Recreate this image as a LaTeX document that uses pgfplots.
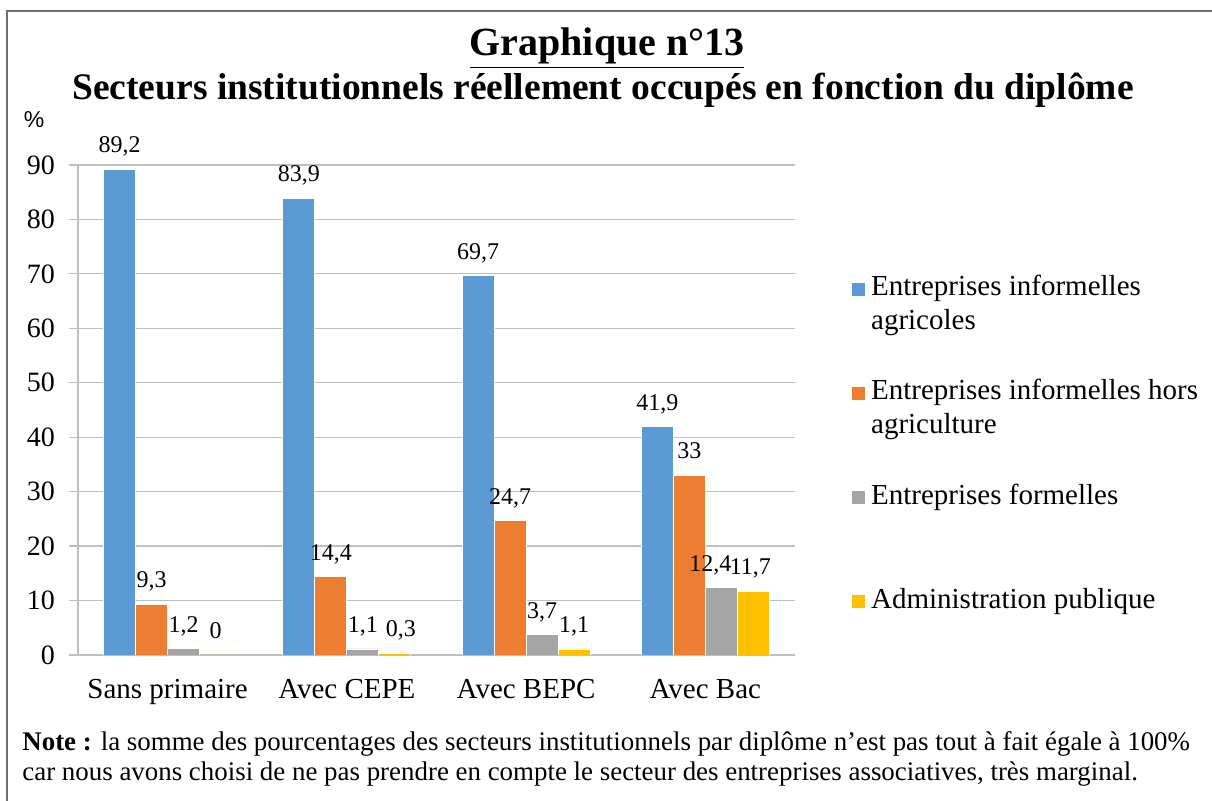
\documentclass[border=0pt]{standalone}
\usepackage{fontspec}
\setmainfont{Liberation Serif}
\newfontfamily\arialfont{Liberation Sans}
\usepackage{pgfplots}
\pgfplotsset{compat=1.18}
\definecolor{cblue}{HTML}{5B9BD5}
\definecolor{corange}{HTML}{ED7D31}
\definecolor{cgray}{HTML}{A5A5A5}
\definecolor{cyellow}{HTML}{FFC000}
\definecolor{axgray}{HTML}{BFBFBF}
\definecolor{framegray}{HTML}{6E6E6E}

\begin{document}
\begin{tikzpicture}[x=0.5pt,y=0.5pt]
\useasboundingbox (0,0) rectangle (1212,801);
\fill[white] (0,0) rectangle (1212,801);
\draw[framegray, line width=1pt] (7,0) -- (7,790) -- (1212,790);
% titres
\node[font=\fontsize{20}{23}\selectfont\bfseries] at (607,753) {\underline{Graphique n°13}};
\node[font=\fontsize{18.75}{22}\selectfont\bfseries] at (603,711) {Secteurs institutionnels réellement occupés en fonction du diplôme};
\node[font=\arialfont\fontsize{11.5}{13}\selectfont] at (34,681) {\%};
% note
\node[anchor=base west, inner sep=0pt, font=\fontsize{13.45}{15}\selectfont] at (22,50) {\textbf{Note :} la somme des pourcentages des secteurs institutionnels par diplôme n’est pas tout à fait égale à 100\%};
\node[anchor=base west, inner sep=0pt, font=\fontsize{13.45}{15}\selectfont] at (22,20) {car nous avons choisi de ne pas prendre en compte le secteur des entreprises associatives, très marginal.};

\begin{axis}[
    at={(39pt,73pt)}, anchor=south west,
    scale only axis, width=358.5pt, height=245pt,
    ybar=0pt, bar width=16pt,
    xmin=-0.5, xmax=3.5, ymin=0, ymax=90,
    xtick={0,1,2,3},
    xticklabels={Sans primaire, Avec CEPE, Avec BEPC, Avec Bac},
    major x tick style={draw=none},
    extra x ticks={-0.5,0.5,1.5,2.5,3.5},
    extra x tick labels={},
    extra x tick style={major tick length=4pt, tick align=outside, tick style={draw=axgray}},
    ytick={0,10,...,90},
    ymajorgrids, major grid style={axgray, line width=0.6pt},
    tick align=outside, major tick length=4.5pt,
    tick style={axgray, line width=0.6pt},
    axis x line*=bottom, axis y line*=left,
    axis line style={-, draw=axgray, line width=0.6pt},
    /pgf/number format/assume math mode=true,
    /pgf/number format/.cd, use comma, fixed, precision=1, /pgfplots/.cd,
    xticklabel style={font=\fontsize{14.5}{17}\selectfont, yshift=-4pt},
    yticklabel style={font=\fontsize{14}{16}\selectfont, xshift=-3.5pt},
    nodes near coords,
    nodes near coords style={font=\fontsize{12}{14}\selectfont, anchor=south, inner sep=0pt, text depth=0pt, yshift=8pt, black},
    legend style={at={(1.078,0.7847)}, anchor=north west, draw=none, fill=none, inner sep=0pt,
        row sep=19.5pt, column sep=0pt,
        font=\fontsize{14.5}{17}\selectfont,
        cells={anchor=base west, align=left, inner sep=0pt}},
    legend image code/.code={\fill[#1] (0pt,16.7pt) rectangle (7pt,23.7pt);},
]
\addplot[fill=cblue, draw=white, line width=0.4pt] coordinates {(0,89.2) (1,83.9) (2,69.7) (3,41.9)};
\addplot[fill=corange, draw=white, line width=0.4pt] coordinates {(0,9.3) (1,14.4) (2,24.7) (3,33)};
\addplot[fill=cgray, draw=white, line width=0.4pt,
    coordinate style/.condition={x==3}{xshift=-5.5pt}] coordinates {(0,1.2) (1,1.1) (2,3.7) (3,12.4)};
\addplot[fill=cyellow, draw=white, line width=0.4pt,
    coordinate style/.condition={x==1}{xshift=3pt},
    coordinate style/.condition={x==3}{xshift=-1.5pt}] coordinates {(0,0) (1,0.3) (2,1.1) (3,11.7)};
\legend{{\hspace{0.5pt}Entreprises informelles\\\hspace{0.5pt}agricoles\strut},
        {\hspace{0.5pt}Entreprises informelles hors\\\hspace{0.5pt}agriculture\strut},
        {\hspace{0.5pt}Entreprises formelles\\\strut},
        {\hspace{0.5pt}Administration publique\\\strut}}
\end{axis}
\end{tikzpicture}
\end{document}
